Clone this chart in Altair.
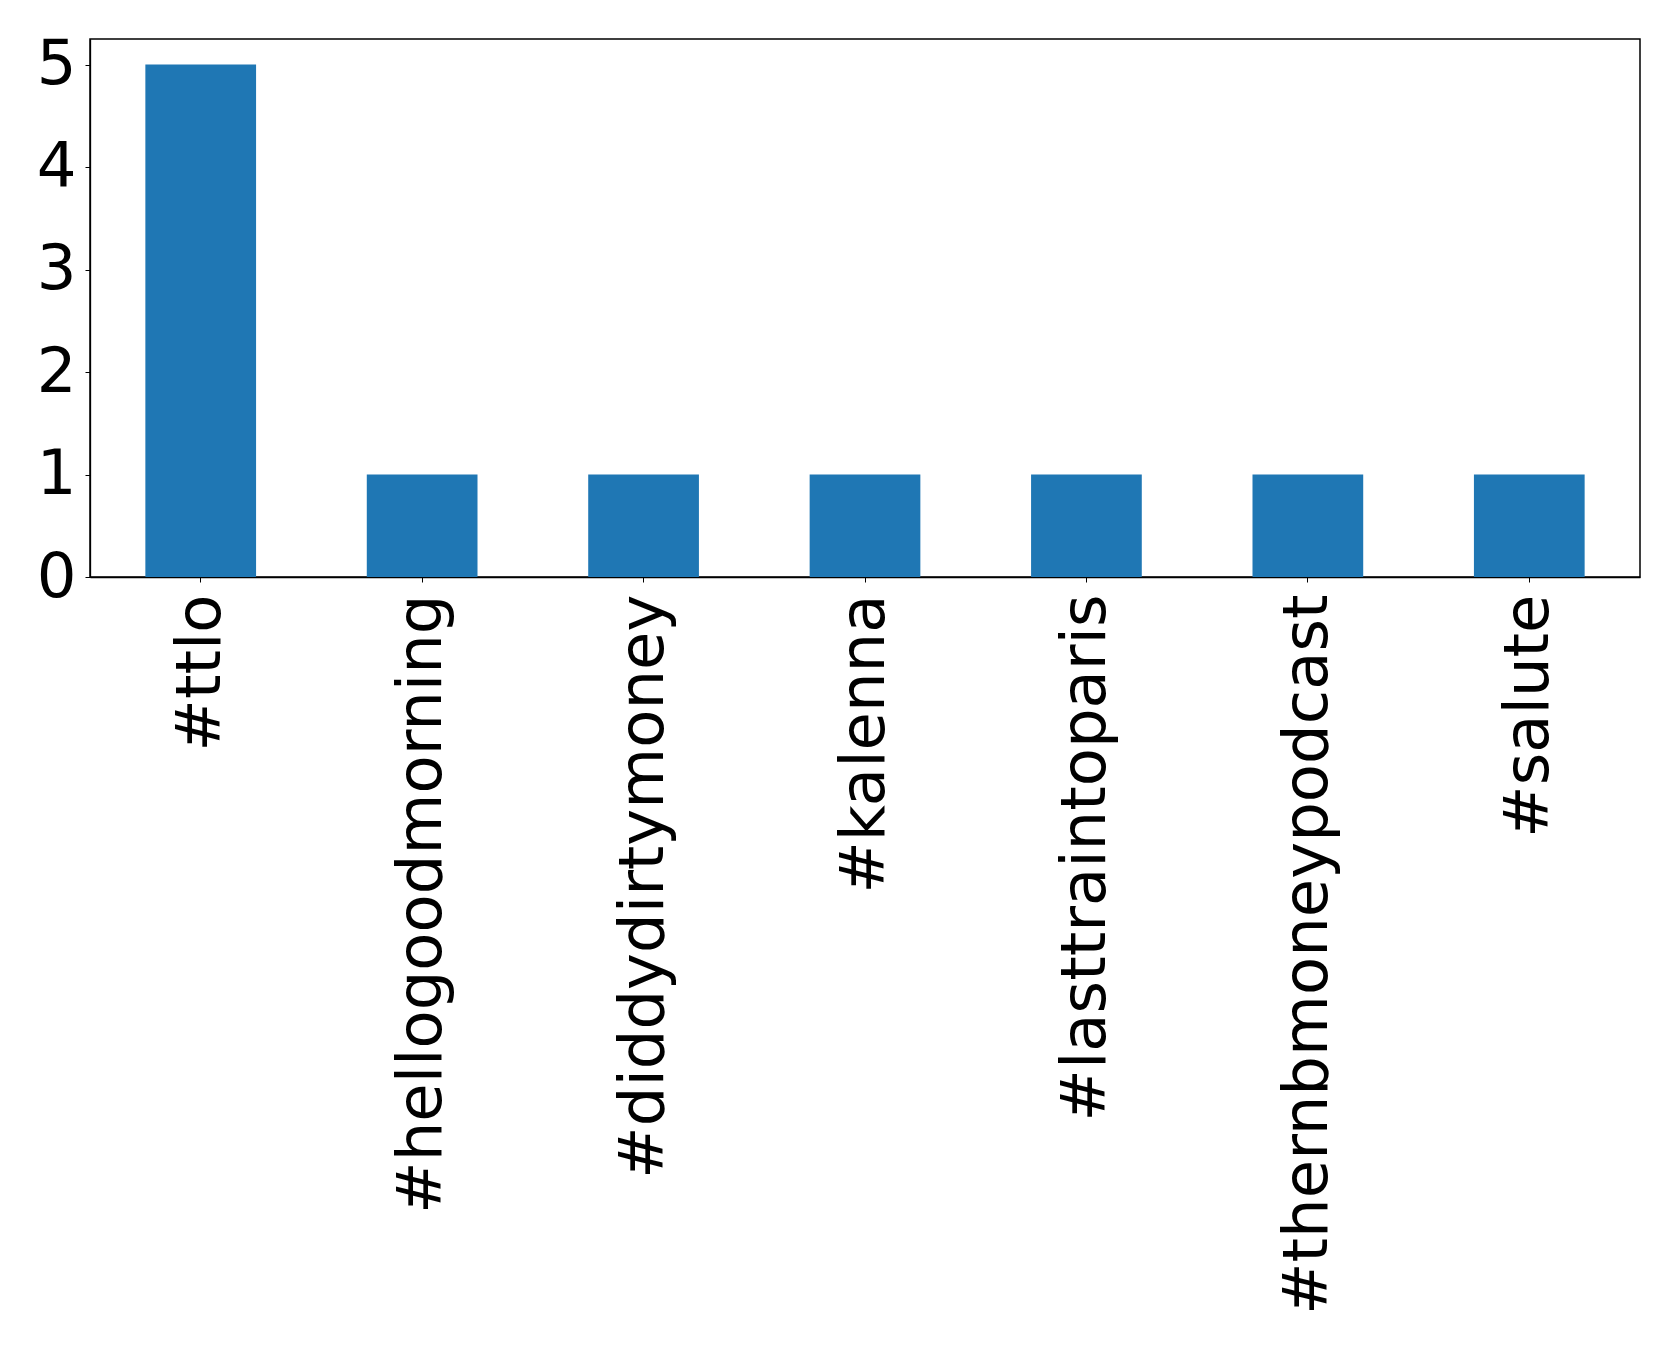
import altair as alt
import pandas as pd

tags = ["#ttlo", "#hellogoodmorning", "#diddydirtymoney", "#kalenna",
        "#lasttraintoparis", "#thernbmoneypodcast", "#salute"]
counts = [5, 1, 1, 1, 1, 1, 1]

df = pd.DataFrame({"tag": tags, "count": counts})

chart = alt.Chart(df).mark_bar(color="#1f77b4").encode(
    x=alt.X("tag:N", sort=tags, title=None,
            scale=alt.Scale(paddingInner=0.5, paddingOuter=0.25),
            axis=alt.Axis(labelAngle=-90, labelFontSize=62.5, labelFont="DejaVu Sans",
                          labelColor="black", labelPadding=12, tickSize=5,
                          tickColor="black", domainColor="black", domainWidth=1.3,
                          labelAlign="right", labelBaseline="middle", labelLimit=1000)),
    y=alt.Y("count:Q", title=None,
            scale=alt.Scale(domain=[0, 5.25], nice=False),
            axis=alt.Axis(values=[0, 1, 2, 3, 4, 5], labelFontSize=62.5,
                          labelFont="DejaVu Sans", labelColor="black",
                          labelPadding=9, tickSize=5, tickColor="black",
                          domainColor="black", domainWidth=1.3, grid=False,
                          labelFlush=False)),
).properties(
    width=1550, height=538,
    background="white",
    autosize=alt.AutoSizeParams(type="none"),
    padding={"left": 82, "top": 31, "right": 30, "bottom": 760},
).configure_view(stroke="#000000", strokeWidth=1.5, strokeOpacity=1)

chart.save("out.html", embed_options={"renderer": "svg", "actions": False})
